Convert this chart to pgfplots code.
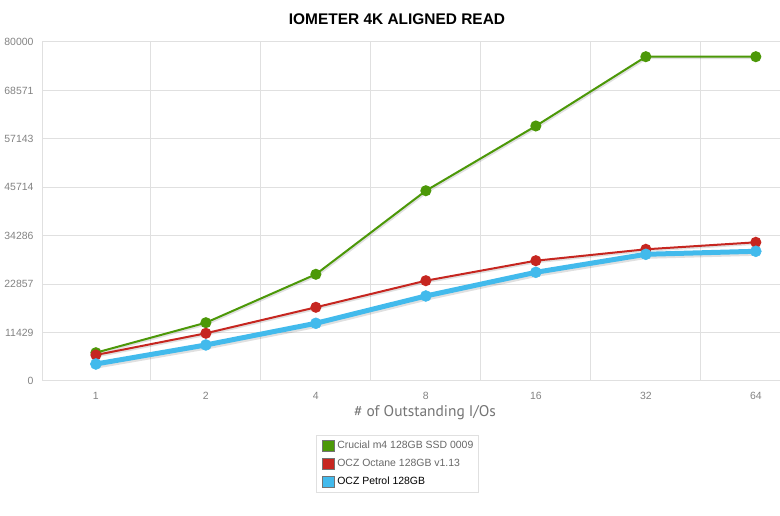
\documentclass[border=0pt]{standalone}
\usepackage{pgfplots}
\pgfplotsset{compat=1.18}
\usepackage{fontspec}
\setmainfont{Liberation Sans}
\newfontfamily\xlabfont{PT Sans}
\definecolor{cgreen}{RGB}{76,152,8}
\definecolor{cred}{RGB}{198,38,32}
\definecolor{cblue}{RGB}{66,186,236}
\definecolor{cgrid}{RGB}{224,224,224}
\definecolor{ctick}{RGB}{130,130,130}
\begin{document}
\begin{tikzpicture}[x=1bp,y=1bp]
\useasboundingbox (0,0) rectangle (780,516);
\node[font=\fontsize{15.5}{18}\selectfont\bfseries] at (397,497) {IOMETER 4K ALIGNED READ};
\node[font=\xlabfont\fontsize{15.5}{18}\selectfont, text=ctick!90!black] at (425,103) {\# of Outstanding I/Os};
\begin{axis}[
  at={(42bp,135bp)}, anchor=south west,
  scale only axis, width=738bp, height=339bp,
  xmin=-0.49, xmax=6.22, ymin=0, ymax=80000,
  scaled y ticks=false,
  axis lines=left, axis line style={-, draw=cgrid, line width=1bp},
  xtick={0,...,6}, xticklabels={1,2,4,8,16,32,64},
  minor xtick={0.5,1.5,2.5,3.5,4.5,5.5},
  xminorgrids, ymajorgrids,
  ytick={0,11429,22857,34286,45714,57143,68571,80000},
  yticklabels={0,11429,22857,34286,45714,57143,68571,80000},
  major tick length=0pt, minor tick length=0pt,
  grid style={draw=cgrid, line width=1bp},
  minor grid style={draw=cgrid, line width=1bp},
  tick label style={font=\fontsize{10.5}{12}\selectfont, text=ctick},
  xticklabel style={yshift=-8bp},
  yticklabel style={xshift=-5bp},
  /pgf/number format/assume math mode=true,
  clip=false,
  legend style={at={(0.4815,-0.159)}, anchor=north, draw=cgrid, line width=0.8bp,
    font=\fontsize{10.5}{12}\selectfont, text=ctick!80!black, row sep=5bp,
    inner xsep=3bp, inner ysep=4bp, cells={anchor=west}},
  legend cell align=left,
  legend image code/.code={\path[draw=none, fill=none] (0bp,0bp) -- (16bp,0bp); \path[#1, fill, draw=black!55, line width=0.4bp] (3bp,-5.5bp) rectangle (15bp,5.5bp);},
]
% shadows
\addplot[forget plot, black, opacity=0.12, line width=5bp, yshift=-2bp, xshift=1bp] coordinates {(0,4010)(1,8500)(2,13620)(3,20060)(4,25650)(5,29900)(6,30610)};
\addplot[forget plot, black, opacity=0.12, line width=2bp, yshift=-1.5bp, xshift=1bp] coordinates {(0,6680)(1,13760)(2,25180)(3,44900)(4,60180)(5,76530)(6,76530)};
\addplot[forget plot, black, opacity=0.12, line width=2bp, yshift=-1.5bp, xshift=1bp] coordinates {(0,6140)(1,11260)(2,17390)(3,23670)(4,28390)(5,31080)(6,32730)};
\addplot[cgreen, line width=2bp, mark=*, mark size=4.5bp, mark options={fill=cgreen, draw=cgreen}] coordinates {(0,6680)(1,13760)(2,25180)(3,44900)(4,60180)(5,76530)(6,76530)};
\addlegendentry{Crucial m4 128GB SSD 0009}
\addplot[cred, line width=2bp, mark=*, mark size=4.5bp, mark options={fill=cred, draw=cred}] coordinates {(0,6140)(1,11260)(2,17390)(3,23670)(4,28390)(5,31080)(6,32730)};
\addlegendentry{OCZ Octane 128GB v1.13}
\addplot[cblue, line width=5bp, mark=*, mark size=5.5bp, mark options={fill=cblue, draw=cblue, line width=0.5bp}] coordinates {(0,4010)(1,8500)(2,13620)(3,20060)(4,25650)(5,29900)(6,30610)};
\addlegendentry{\textcolor{black}{OCZ Petrol 128GB}}
\end{axis}
\end{tikzpicture}
\end{document}
